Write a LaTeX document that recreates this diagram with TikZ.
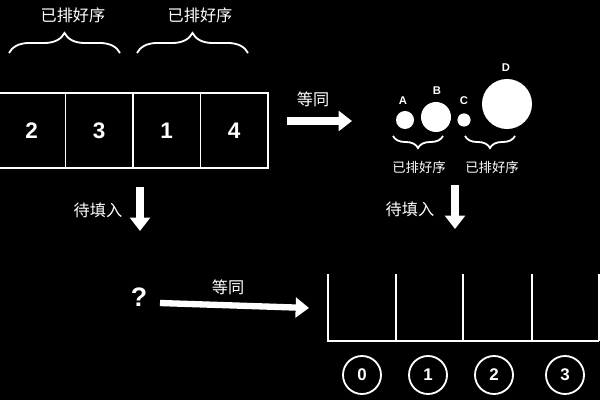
\documentclass[tikz,border=0pt]{standalone}
\usepackage{fontspec}
\setmainfont{Liberation Sans}
\newfontfamily\cjk{Noto Sans CJK SC}
\usetikzlibrary{arrows.meta, positioning, decorations.pathreplacing}

\begin{document}
\begin{tikzpicture}[
    x=0.025cm, y=-0.025cm,
    white, line width=1.3pt,
    cell/.style={draw, minimum width=1.69cm, minimum height=1.875cm,
                 inner sep=0pt, outer sep=0pt, font=\fontsize{16}{16}\selectfont\bfseries},
    ball/.style={circle, fill=white, inner sep=0pt},
    balllabel/.style={font=\fontsize{8}{8}\selectfont\bfseries},
    idx/.style={circle, draw, minimum size=0.95cm, inner sep=0pt,
                font=\fontsize{12}{12}\selectfont\bfseries},
    cn/.style={font=\cjk\fontsize{11.5}{11.5}\selectfont},
    cnsmall/.style={font=\cjk\fontsize{9.5}{9.5}\selectfont},
    brace/.style={decorate, decoration={brace, amplitude=#1}},
    bigarrow/.style={line width=5.5pt, -{Triangle[length=9.5pt, width=14pt]}}
  ]
    \fill[black] (0,0) rectangle (600,400);
    \useasboundingbox (0,0) rectangle (600,400);

    % the array, two sorted halves
    \node[cell] (c0) at (31.75,130.5) {2};
    \node[cell] (c1) at (99.25,130.5) {3};
    \node[cell] (c2) at (166.75,130.5) {1};
    \node[cell] (c3) at (234.25,130.5) {4};
    \draw[brace=0.5cm] (9,53) -- (120,53);
    \draw[brace=0.5cm] (137,53) -- (248,53);
    \node[cn] (s0) at (73,15) {已排好序};
    \node[cn] (s1) at (200,15) {已排好序};

    % balls of growing size
    \node[ball, minimum size=0.45cm] (ba) at (405,120) {};
    \node[ball, minimum size=0.75cm] (bb) at (436,117) {};
    \node[ball, minimum size=0.33cm] (bc) at (464,120) {};
    \node[ball, minimum size=1.25cm] (bd) at (507,104) {};
    \node[balllabel] (la) at (403,101) {A};
    \node[balllabel] (lb) at (437,91) {B};
    \node[balllabel] (lc) at (464,101) {C};
    \node[balllabel] (ld) at (506,68) {D};
    \draw[brace=0.3cm, decoration={mirror}] (393,136) -- (443,136);
    \draw[brace=0.3cm, decoration={mirror}] (465,136) -- (515,136);
    \node[cnsmall] (s2) at (419,167) {已排好序};
    \node[cnsmall] (s3) at (492,167) {已排好序};

    % the question and the buckets
    \node[font=\fontsize{19}{19}\selectfont\bfseries] (q) at (139,297) {?};
    \draw (328,274) |- (599,341);
    \foreach \x in {396,463,532,599}
      \draw (\x,274) -- (\x,341);
    \node[idx] (i0) at (362,375) {0};
    \node[idx] (i1) at (428,375) {1};
    \node[idx] (i2) at (494,375) {2};
    \node[idx] (i3) at (565,375) {3};

    % arrows
    \coordinate (r0) at (287,121);
    \coordinate (r1) at (352,121);
    \draw[bigarrow] (r0) -- (r1);
    \node[cn] (e0) at (313,99) {等同};

    \coordinate (d0) at (140,187);
    \coordinate (d1) at (140,231);
    \draw[bigarrow] (d0) -- (d1);
    \node[cn] (w0) at (98,210) {待填入};

    \coordinate (d2) at (455,185);
    \coordinate (d3) at (455,229);
    \draw[bigarrow] (d2) -- (d3);
    \node[cn] (w1) at (410,209) {待填入};

    \coordinate (h0) at (160,303);
    \coordinate (h1) at (309,308);
    \draw[bigarrow, line width=4.5pt] (h0) -- (h1);
    \node[cn] (e1) at (228,287) {等同};
  \end{tikzpicture}
\end{document}
